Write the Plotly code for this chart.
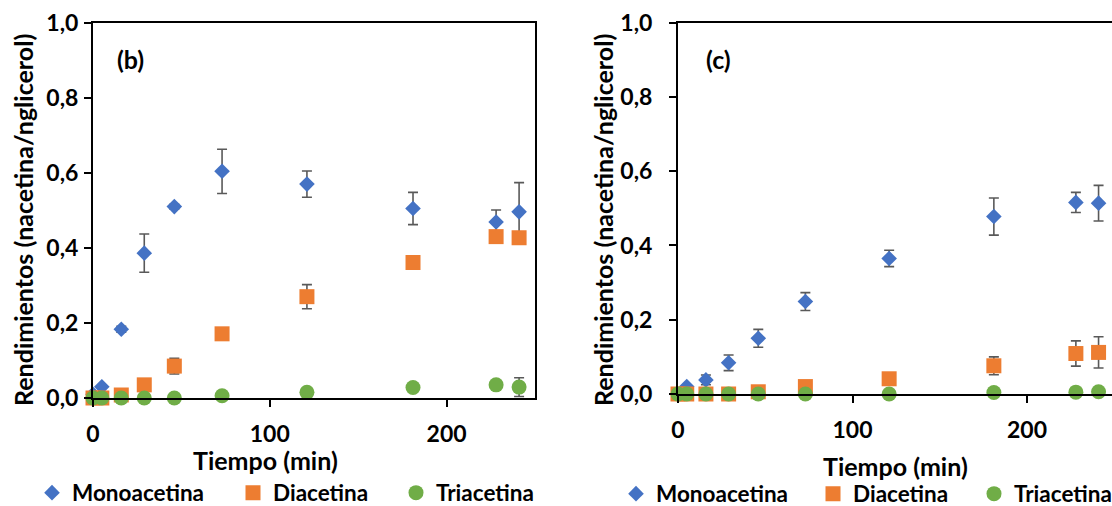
import plotly.graph_objects as go

# ---------------- data ----------------
time_min = [0, 5, 16, 29, 46, 73, 121, 181, 228, 241]

mono_b = [0.010, 0.030, 0.183, 0.386, 0.510, 0.604, 0.570, 0.505, 0.469, 0.496]
mono_b_err = [0, 0, 0.008, 0.051, 0.006, 0.059, 0.035, 0.043, 0.032, 0.078]
di_b = [0.0, 0.0, 0.008, 0.035, 0.085, 0.171, 0.270, 0.361, 0.430, 0.427]
di_b_err = [0, 0, 0, 0, 0.021, 0, 0.032, 0, 0, 0]
tri_b = [0.0, 0.0, 0.0, 0.0, 0.0, 0.006, 0.015, 0.028, 0.035, 0.029]
tri_b_err = [0, 0, 0, 0, 0, 0, 0, 0, 0, 0.025]

mono_c = [0.0, 0.020, 0.038, 0.084, 0.150, 0.249, 0.365, 0.478, 0.516, 0.514]
mono_c_err = [0, 0, 0.013, 0.021, 0.024, 0.024, 0.022, 0.050, 0.027, 0.048]
di_c = [0.0, 0.0, 0.0, 0.0, 0.006, 0.020, 0.041, 0.076, 0.109, 0.112]
di_c_err = [0, 0, 0, 0, 0, 0, 0, 0.024, 0.034, 0.042]
tri_c = [0.0, 0.0, 0.0, 0.0, 0.0, 0.0, 0.0, 0.004, 0.005, 0.006]
tri_c_err = [0] * 10

series_names = ["Monoacetina", "Diacetina", "Triacetina"]
y_ticks = [0, 0.2, 0.4, 0.6, 0.8, 1.0]
y_ticktext = ["0,0", "0,2", "0,4", "0,6", "0,8", "1,0"]
x_ticks = [0, 100, 200]
panel_labels = ["(b)", "(c)"]
x_title = "Tiempo (min)"
y_title = "Rendimientos (nacetina/nglicerol)"

# ---------------- style ----------------
W, H = 1112, 506
FONT = "Lato"
colors = ["#4472C4", "#ED7D31", "#70AD47"]
symbols = ["diamond", "square", "circle"]
sizes = [12, 15, 15]
ERR = "#595959"

def px_x(p):
    return p / W

def px_y(p):
    return (H - p) / H

fig = go.Figure()

panels = [
    dict(xa="x", ya="y", data=[(mono_b, mono_b_err), (di_b, di_b_err), (tri_b, tri_b_err)],
         legends=["legend", "legend2", "legend3"]),
    dict(xa="x2", ya="y2", data=[(mono_c, mono_c_err), (di_c, di_c_err), (tri_c, tri_c_err)],
         legends=["legend4", "legend5", "legend6"]),
]

for p in panels:
    for i, (vals, errs) in enumerate(p["data"]):
        fig.add_trace(go.Scatter(
            x=time_min, y=vals, mode="markers", name=series_names[i],
            xaxis=p["xa"], yaxis=p["ya"], legend=p["legends"][i],
            cliponaxis=False, showlegend=True,
            marker=dict(symbol=symbols[i], size=sizes[i], color=colors[i], line=dict(width=0)),
            error_y=dict(type="data", array=errs, visible=True, color=ERR, thickness=1.6, width=5),
        ))

axis_common = dict(showline=True, linecolor="black", linewidth=2, ticks="outside",
                   ticklen=7, tickwidth=2, tickcolor="black", showgrid=False, zeroline=False,
                   automargin=False,
                   tickfont=dict(family=FONT, size=23, color="black", weight="bold"))

fig.update_layout(
    width=W, height=H, margin=dict(l=0, r=0, t=0, b=0, autoexpand=False),
    showlegend=True,
    paper_bgcolor="white", plot_bgcolor="white",
    xaxis=dict(domain=[px_x(93), px_x(535)], range=[0, 250], tickvals=x_ticks,
               mirror=True, anchor="y", ticklabelstandoff=7, **axis_common),
    yaxis=dict(domain=[px_y(398), px_y(22.7)], range=[0, 1], tickvals=y_ticks, ticktext=y_ticktext,
               mirror=True, anchor="x", ticklabelstandoff=1, **axis_common),
    xaxis2=dict(domain=[px_x(678), 1.0], range=[0, 248.7], tickvals=x_ticks,
                mirror=True, anchor="y2", ticklabelstandoff=7, **axis_common),
    yaxis2=dict(domain=[px_y(394), px_y(22.7)], range=[0, 1], tickvals=y_ticks, ticktext=y_ticktext,
                mirror=False, anchor="x2", ticklabelstandoff=12, **axis_common),
)

# legends: one per entry to place them like the original
leg_font = dict(family=FONT, size=22.5, color="black", weight="bold")
leg_pos = {
    "legend": (32, 493), "legend2": (233, 493), "legend3": (396, 493),
    "legend4": (616, 494), "legend5": (813, 494), "legend6": (974, 494),
}
for name, (lx, ly) in leg_pos.items():
    fig.update_layout({name: dict(x=px_x(lx), y=px_y(ly), xanchor="left", yanchor="middle",
                                  orientation="h", bgcolor="rgba(0,0,0,0)", borderwidth=0,
                                  font=leg_font, visible=True)})

ann_font = dict(family=FONT, size=25, color="black", weight="bold")
annotations = [
    dict(text=y_title, x=px_x(23), y=px_y(220), textangle=-90),
    dict(text=y_title, x=px_x(603), y=px_y(220), textangle=-90),
    dict(text=x_title, x=px_x(265), y=px_y(460)),
    dict(text=x_title, x=px_x(895), y=px_y(466)),
    dict(text=panel_labels[0], x=px_x(130), y=px_y(59)),
    dict(text=panel_labels[1], x=px_x(718), y=px_y(59)),
]
for a in annotations:
    fig.add_annotation(xref="paper", yref="paper", showarrow=False, xanchor="center",
                       yanchor="middle", font=ann_font, **a)

fig.write_html("out.html")
